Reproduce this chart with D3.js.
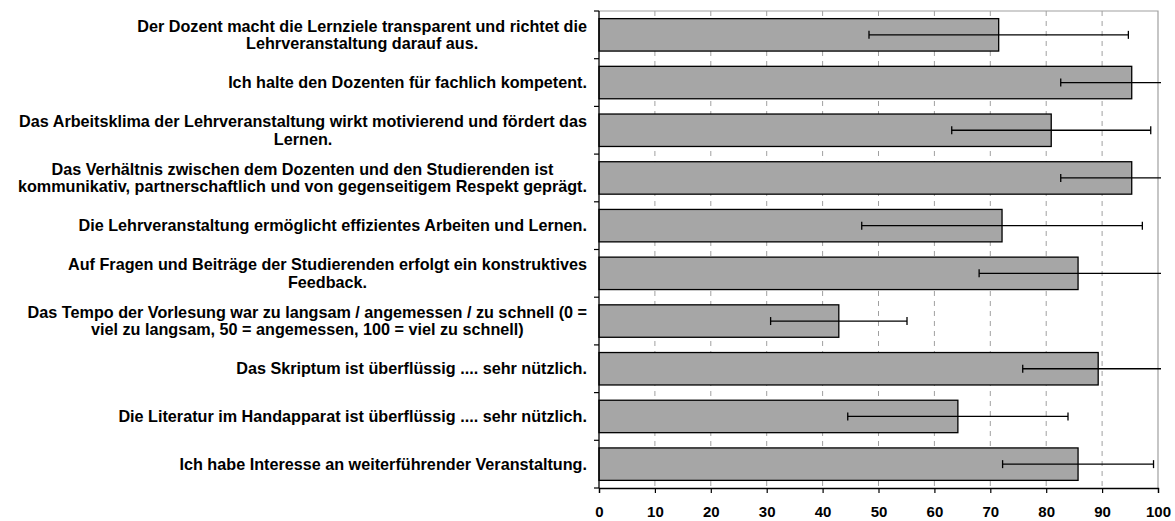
<!DOCTYPE html>
<html>
<head>
<meta charset="utf-8">
<script src="https://cdn.jsdelivr.net/npm/d3@7"></script>
<style>
  body { margin: 0; background: #fff; }
  svg text { font-family: "Liberation Sans", Arial, sans-serif; font-weight: bold; fill: #000; }
</style>
</head>
<body>
<div id="vis-container"></div>
<script>
const labels = [
  "Der Dozent macht die Lernziele transparent und richtet die\nLehrveranstaltung darauf aus.",
  "Ich halte den Dozenten für fachlich kompetent.",
  "Das Arbeitsklima der Lehrveranstaltung wirkt motivierend und fördert das\nLernen.",
  "Das Verhältnis zwischen dem Dozenten und den Studierenden ist\nkommunikativ, partnerschaftlich und von gegenseitigem Respekt geprägt.",
  "Die Lehrveranstaltung ermöglicht effizientes Arbeiten und Lernen.",
  "Auf Fragen und Beiträge der Studierenden erfolgt ein konstruktives\nFeedback.",
  "Das Tempo der Vorlesung war zu langsam / angemessen / zu schnell (0 =\nviel zu langsam, 50 = angemessen, 100 = viel zu schnell)",
  "Das Skriptum ist überflüssig .... sehr nützlich.",
  "Die Literatur im Handapparat ist überflüssig .... sehr nützlich.",
  "Ich habe Interesse an weiterführender Veranstaltung."
];
const means = [71.5, 95.3, 80.9, 95.3, 72.1, 85.7, 42.9, 89.3, 64.2, 85.7];
const sds   = [23.2, 12.7, 17.8, 12.7, 25.1, 17.7, 12.2, 13.5, 19.7, 13.5];
const xTicks = [0, 10, 20, 30, 40, 50, 60, 70, 80, 90, 100];

const width = 1175;
const height = 521;
const margin = { top: 11, right: 17, bottom: 33, left: 599 };

const svg = d3.select("#vis-container")
  .append("svg")
  .attr("width", width)
  .attr("height", height);

const x = d3.scaleLinear()
  .domain([0, 100])
  .range([margin.left, width - margin.right]);

const y = d3.scaleBand()
  .domain(d3.range(labels.length))
  .range([margin.top, height - margin.bottom])
  .paddingInner(0.32)
  .paddingOuter(0.16);

const step = y.step();
const plotTop = margin.top, plotBottom = height - margin.bottom;

// gridlines
svg.append("g")
  .selectAll("line")
  .data(xTicks.slice(1, -1))
  .join("line")
    .attr("x1", d => x(d)).attr("x2", d => x(d))
    .attr("y1", plotTop).attr("y2", plotBottom)
    .attr("stroke", "#a0a0a0")
    .attr("stroke-dasharray", "5,5");

// top and right border
svg.append("path")
  .attr("d", `M${x(0)},${plotTop}H${x(100)}V${plotBottom}`)
  .attr("fill", "none")
  .attr("stroke", "#a0a0a0")
  .attr("stroke-width", 1.2);

// bars
svg.append("g")
  .selectAll("rect")
  .data(means)
  .join("rect")
    .attr("x", x(0))
    .attr("y", (d, i) => y(i))
    .attr("width", d => x(d) - x(0))
    .attr("height", y.bandwidth())
    .attr("fill", "#a6a6a6")
    .attr("stroke", "#000")
    .attr("stroke-width", 1.3);

// error bars, cut off just past the plot edge
svg.append("clipPath").attr("id", "clip")
  .append("rect")
  .attr("x", x(0)).attr("y", plotTop)
  .attr("width", x(100) - x(0) + 3).attr("height", plotBottom - plotTop);

const err = svg.append("g").attr("clip-path", "url(#clip)")
  .selectAll("g")
  .data(means)
  .join("g")
  .attr("transform", (d, i) => `translate(0,${y(i) + y.bandwidth() / 2})`);

err.append("line")
  .attr("x1", (d, i) => x(d - sds[i]))
  .attr("x2", (d, i) => x(d + sds[i]))
  .attr("stroke", "#000").attr("stroke-width", 1.3);

err.selectAll("line.cap")
  .data((d, i) => [d - sds[i], d + sds[i]])
  .join("line")
    .attr("class", "cap")
    .attr("x1", d => x(d)).attr("x2", d => x(d))
    .attr("y1", -4).attr("y2", 4)
    .attr("stroke", "#000").attr("stroke-width", 1.3);

// x axis
svg.append("g")
  .attr("transform", `translate(0,${plotBottom})`)
  .call(d3.axisBottom(x).tickValues(xTicks).tickSize(5).tickPadding(13))
  .call(g => g.select(".domain").attr("stroke", "#000").attr("stroke-width", 1.3))
  .call(g => g.selectAll(".tick line").attr("stroke", "#000").attr("stroke-width", 1.2))
  .call(g => g.selectAll("text").attr("font-size", "15px").attr("font-weight", "bold")
    .attr("font-family", "Liberation Sans, Arial, sans-serif"));

// y axis line with ticks at band edges
svg.append("line")
  .attr("x1", x(0)).attr("x2", x(0))
  .attr("y1", plotTop).attr("y2", plotBottom)
  .attr("stroke", "#000").attr("stroke-width", 1.3);

svg.append("g")
  .selectAll("line")
  .data(d3.range(labels.length + 1))
  .join("line")
    .attr("x1", x(0) - 5).attr("x2", x(0))
    .attr("y1", i => plotTop + i * step).attr("y2", i => plotTop + i * step)
    .attr("stroke", "#000").attr("stroke-width", 1.2);

// category labels, centred block right-aligned to the axis
const labelRight = x(0) - 12;
const lineH = 17.5;
labels.forEach((lab, i) => {
  const lines = lab.split("\n");
  const g = svg.append("g");
  const texts = lines.map((ln, k) => g.append("text")
    .attr("font-size", "16.2px")
    .attr("dy", "0.35em")
    .attr("text-anchor", "middle")
    .attr("y", y(i) + y.bandwidth() / 2 + (k - (lines.length - 1) / 2) * lineH)
    .text(ln));
  const maxW = d3.max(texts, t => t.node().getComputedTextLength());
  texts.forEach(t => t.attr("x", labelRight - maxW / 2));
});
</script>
</body>
</html>
